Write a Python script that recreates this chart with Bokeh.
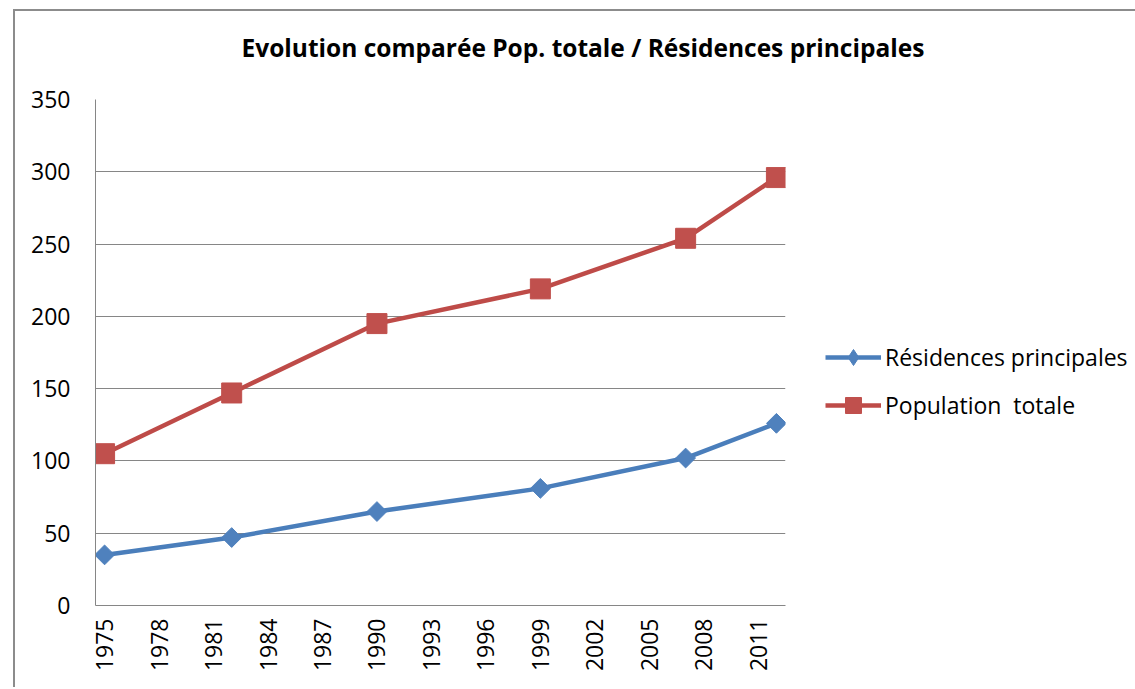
import math
from bokeh.plotting import figure
from bokeh.models import FixedTicker, Legend, LegendItem, Title
from bokeh.embed import file_html
from bokeh.resources import INLINE

years = [1975, 1982, 1990, 1999, 2007, 2012]
residences = [35, 47, 65, 81, 102, 126]
population = [105, 147, 195, 219, 254, 296]
x_ticks = [1975, 1978, 1981, 1984, 1987, 1990, 1993, 1996, 1999, 2002, 2005, 2008, 2011]
y_ticks = [0, 50, 100, 150, 200, 250, 300, 350]
title_text = "Evolution comparée Pop. totale / Résidences principales"
label_res = "Résidences principales"
label_pop = "Population  totale"

FONT = "Open Sans"
BLUE = "#4A7EBB"
BLUE_M = "#4F81BD"
RED = "#BE4B48"
RED_M = "#C0504D"
GRID = "#868686"

p = figure(frame_width=690, frame_height=506, x_range=(1974.5, 2012.5), y_range=(0, 350),
           output_backend="svg", toolbar_location=None, title_location=None,
           min_border_left=80, min_border_right=348, min_border_top=88, min_border_bottom=82)
p.styles = {"border-left": "2px solid #8c8c8c", "border-top": "2px solid #8c8c8c",
            "margin-left": "13px", "margin-top": "9px"}
p.outline_line_color = None
p.background_fill_color = "white"
p.border_fill_color = "white"

# spacer (closest to the frame), then the main title above it
p.add_layout(Title(text=" ", text_font=FONT, text_font_size="16px", standoff=2), "above")
p.add_layout(Title(text=title_text, text_font=FONT, text_font_style="bold",
                   text_font_size="24.5px", text_color="black", align="left",
                   offset=146, standoff=20), "above")

p.xgrid.grid_line_color = None
p.ygrid.grid_line_color = GRID
p.ygrid.grid_line_width = 1

p.xaxis.ticker = FixedTicker(ticks=x_ticks)
p.yaxis.ticker = FixedTicker(ticks=y_ticks)
for ax in (p.xaxis, p.yaxis):
    ax.axis_line_color = GRID
    ax.axis_line_width = 1
    ax.major_tick_line_color = None
    ax.minor_tick_line_color = None
    ax.major_tick_out = 0
    ax.major_tick_in = 0
    ax.major_label_text_font = FONT
    ax.major_label_text_font_size = "23px"
    ax.major_label_text_color = "black"
p.yaxis.major_label_standoff = 25
p.xaxis.major_label_standoff = 13
p.xaxis.major_label_orientation = math.pi / 2

r1 = p.line(years, residences, line_color=BLUE, line_width=4.5)
m1 = p.scatter(years, residences, marker="square", angle=math.pi / 4, size=14,
               fill_color=BLUE_M, line_color=BLUE_M)
r2 = p.line(years, population, line_color=RED, line_width=4.5)
m2 = p.scatter(years, population, marker="square", size=20, fill_color=RED_M, line_color=RED_M)

# legend-only diamond glyph, its single point lies outside the visible range
leg_d = p.scatter(x=[1900], y=[-1000], marker="diamond", size=14,
                  fill_color=BLUE_M, line_color=BLUE_M)

legend = Legend(items=[LegendItem(label=label_res, renderers=[r1, leg_d]),
                       LegendItem(label=label_pop, renderers=[r2, m2])],
                location=(40, 180), orientation="vertical",
                glyph_width=56, glyph_height=40, label_height=40, spacing=8,
                padding=0, margin=0, label_standoff=4,
                label_text_font=FONT, label_text_font_size="23px",
                label_text_color="black",
                border_line_color=None, background_fill_alpha=0)
p.add_layout(legend, "right")

open("out.html", "w").write(file_html(p, INLINE))
